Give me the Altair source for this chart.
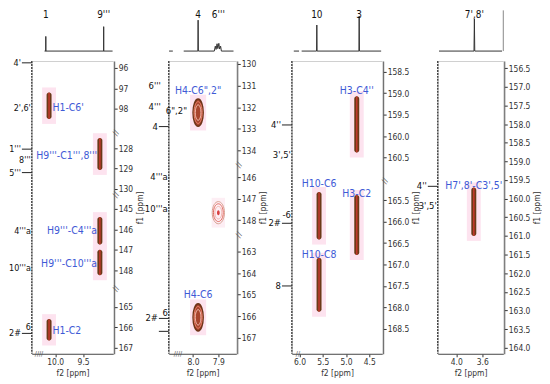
import altair as alt
import pandas as pd

FONT = "Liberation Sans Narrow, DejaVu Sans Condensed, Roboto Condensed, Roboto, sans-serif"
BLUE = "#3e5ad6"
PINK = "#fde3ef"
OUTER = "#6b3a18"
INNER = "#c0392b"

# ---------------- data ----------------
# Panel 1
P1_SPEC_X = [10.13, 10.11, 10.11, 10.11, 9.20, 9.20, 9.20, 9.06]
P1_SPEC_Y = [0, 0, 0.36, 0, 0, 0.60, 0, 0]
P1_SPEC_SEG = [0, 0, 0, 0, 0, 0, 0, 0]
P1_SPEC_LAB = ["1", "9'''"]
P1_SPEC_LAB_X = [10.11, 9.20]
P1_PEAK_F2 = [10.11, 9.20, 9.20, 9.20, 10.11]
P1_PEAK_LO = [97.2, 127.5, 145.4, 147.0, 165.6]
P1_PEAK_HI = [98.5, 129.07, 146.74, 148.25, 166.65]
P1_LAB = ["H1-C6'", "H9'''-C1''',8'''", "H9'''-C4'''a", "H9'''-C10'''a", "H1-C2"]
P1_LAB_F2 = [10.05, 9.25, 9.25, 9.25, 10.05]
P1_LAB_F1 = [97.95, 128.4, 146.1, 147.7, 166.2]
P1_LAB_ALIGN = ["left", "right", "right", "right", "left"]
P1_C13 = ["4'", "2',6'", "1'''", "8'''", "5'''", "4'''a", "10'''a", "2#", "6"]
P1_C13_F1 = [95.75, 97.95, 128.05, 128.6, 129.2, 146.1, 147.9, 166.3, 166.0]
P1_C13_KIND = ["line", "plain", "line", "plain", "line", "plain", "plain", "line", "plain"]
P1_YTICKS = [96, 97, 98, 128, 129, 130, 145, 146, 147, 148, 165, 166, 167]
P1_XTICKS = [10.0, 9.5]
P1_SEGS = [(95.66, 99.2), (127.27, 130.3), (144.32, 148.92), (164.12, 167.3)]
P1_XDOM = [9.05, 10.33]

# Panel 2
P2_SPEC_X = [8.095, 8.080, 8.037, 7.981, 7.980, 7.979, 7.916, 7.912, 7.909, 7.905,
             7.902, 7.898, 7.895, 7.891, 7.888, 7.840]
P2_SPEC_Y = [0, 0, 0, 0, 0.76, 0, 0, 0.12, 0.04, 0.18, 0.06, 0.19, 0.05, 0.12, 0, 0]
P2_SPEC_SEG = [0, 0, 1, 1, 1, 1, 1, 1, 1, 1, 1, 1, 1, 1, 1, 1]
P2_SPEC_LAB = ["4", "6'''"]
P2_SPEC_LAB_X = [7.98, 7.90]
P2_PEAK_F2 = [7.98, 7.90, 7.98]
P2_PEAK_F1 = [132.25, 147.65, 166.05]
P2_PEAK_KIND = ["long", "round", "long"]
P2_LAB = ['H4-C6",2"', "H4-C6"]
P2_LAB_F2 = [7.98, 7.98]
P2_LAB_F1 = [131.25, 165.0]
P2_LAB_ALIGN = ["center", "center"]
P2_C13 = ["6'''", "4'''", '6",2"', "4", "4'''a", "10'''a", "2#", "6", ""]
P2_C13_F1 = [131.0, 132.0, 132.2, 132.9, 146.0, 147.5, 166.1, 165.85, 166.7]
P2_C13_KIND = ["far", "far", "inside", "line", "plain", "plain", "line", "plain", "line"]
P2_YTICKS = [130, 131, 132, 133, 134, 146, 147, 148, 163, 164, 165, 166, 167]
P2_XTICKS = [8.1, 8.0, 7.9]
P2_SEGS = [(129.86, 134.69), (145.45, 148.69), (162.24, 167.74)]
P2_XDOM = [7.829, 8.096]

# Panel 3
P3_SPEC_X = [6.02, 5.92, 5.87, 5.585, 5.58, 5.575, 4.775, 4.77, 4.765, 4.35]
P3_SPEC_Y = [0, 0, 0, 0, 0.64, 0, 0, 0.86, 0, 0]
P3_SPEC_SEG = [0, 0, 1, 1, 1, 1, 1, 1, 1, 1]
P3_SPEC_LAB = ["10", "3"]
P3_SPEC_LAB_X = [5.58, 4.77]
P3_PEAK_F2 = [4.77, 5.58, 4.77, 5.58]
P3_PEAK_LO = [159.07, 165.31, 165.38, 166.84]
P3_PEAK_HI = [160.38, 166.42, 166.78, 168.10]
P3_LAB = ["H3-C4''", "H10-C6", "H3-C2", "H10-C8"]
P3_LAB_F2 = [4.77, 5.58, 4.77, 5.58]
P3_LAB_F1 = [158.95, 165.12, 165.35, 166.78]
P3_LAB_ALIGN = ["center", "center", "center", "center"]
P3_C13 = ["4''", "3',5'", "-6", "2#", "8"]
P3_C13_F1 = [159.74, 160.45, 165.85, 166.04, 167.5]
P3_C13_KIND = ["line", "plain", "plain", "line", "line"]
P3_YTICKS = [158.5, 159.0, 159.5, 160.0, 160.5, 165.5, 166.0, 166.5, 167.0, 167.5, 168.0, 168.5]
P3_XTICKS = [6.0, 5.5, 5.0, 4.5]
P3_SEGS = [(158.25, 161.05), (165.06, 169.08)]
P3_XDOM = [4.33, 6.057]

# Panel 4
P4_SPEC_X = [4.19, 3.735, 3.73, 3.725, 3.37]
P4_SPEC_Y = [0, 0, 0.79, 0, 0]
P4_SPEC_SEG = [0, 0, 0, 0, 0]
P4_SPEC_LAB = ["7',8'"]
P4_SPEC_LAB_X = [3.73]
P4_PEAK_F2 = [3.73]
P4_PEAK_LO = [159.7]
P4_PEAK_HI = [161.0]
P4_LAB = ["H7',8'-C3',5'"]
P4_LAB_F2 = [3.73]
P4_LAB_F1 = [159.67]
P4_LAB_ALIGN = ["center"]
P4_C13 = ["4''", "3',5'"]
P4_C13_F1 = [159.67, 160.2]
P4_C13_KIND = ["line", "plain"]
P4_YTICKS = [156.5, 157.0, 157.5, 158.0, 158.5, 159.0, 159.5, 160.0, 160.5,
             161.0, 161.5, 162.0, 162.5, 163.0, 163.5, 164.0]
P4_XTICKS = [4.0, 3.6]
P4_SEGS = [(156.31, 164.16)]
P4_XDOM = [3.354, 4.206]

# ---------------- layout / style (not data) ----------------
H_MAIN = 295
H_TOP = 41
ELL_LONG = "M0,-1A0.37,1,0,1,1,0,1A0.37,1,0,1,1,0,-1Z"
ELL_ROUND = "M0,-1A0.55,1,0,1,1,0,1A0.55,1,0,1,1,0,-1Z"
RECT = "M-0.45,-1H0.45V1H-0.45Z"
KIND_X = {"line": (-11, "right"), "far": (-8, "right"), "plain": (-1, "right"), "inside": (-3, "left")}
PINK_PAD_PX = 5


def seg_scale(segs, h):
    total = sum(b - a for a, b in segs)
    k = h / total
    dom, rng, acc = [], [], 0.0
    for a, b in segs:
        dom += [a, b]
        rng += [acc * k, (acc + b - a) * k]
        acc += b - a
    return dom, rng, k


def make_panel(w, xdom, xticks, segs, yticks, yfmt, spec, speclab, peaks, labs, c13,
               bottom_breaks, ellipses=None, top_frame=False, c13_size=9.5):
    dom, rng, k = seg_scale(segs, H_MAIN)
    pad = PINK_PAD_PX / k
    xs = alt.Scale(domain=xdom, reverse=True, nice=False, zero=False)
    X = alt.X("f2:Q", scale=xs,
              axis=alt.Axis(values=xticks, format=".1f", title="f2 [ppm]", labelFlush=False,
                            tickSize=3, labelPadding=1, titlePadding=2))
    Y = alt.Y("f1:Q", scale=alt.Scale(domain=dom, range=rng, nice=False, zero=False),
              axis=alt.Axis(values=yticks, format=yfmt, title="f1 [ppm]", orient="right",
                            titleAngle=270, titleBaseline="top", offset=1, tickSize=3,
                            labelPadding=1, titlePadding=3, labelFlush=False,
                            labelOverlap=False))
    layers = []
    if peaks is not None:
        pdf = pd.DataFrame({"f2": peaks[0], "lo": peaks[1], "hi": peaks[2]})
        base = alt.Chart(pdf)
        layers.append(base.transform_calculate(f1=f"datum.lo - {pad}", f1b=f"datum.hi + {pad}")
                      .mark_bar(size=14, color=PINK).encode(x=X, y=Y, y2="f1b:Q"))
        core = base.transform_calculate(f1="datum.lo", f1b="datum.hi")
        layers.append(core.mark_bar(size=5, cornerRadius=2.5, color=OUTER).encode(x=X, y=Y, y2="f1b:Q"))
        layers.append(core.mark_bar(size=1.6, cornerRadius=0.8, color=INNER).encode(x=X, y=Y, y2="f1b:Q"))
    if ellipses is not None:
        edf = pd.DataFrame({"f2": ellipses[0], "f1": ellipses[1], "kind": ellipses[2]})
        eb = alt.Chart(edf)
        lg = eb.transform_filter(alt.datum.kind == "long")
        rd = eb.transform_filter(alt.datum.kind == "round")
        layers.append(lg.mark_point(shape=RECT, size=1300, filled=True, color=PINK, opacity=1).encode(x=X, y=Y))
        layers.append(lg.mark_point(shape=ELL_LONG, size=760, filled=True, fill="#a8442e",
                                    stroke="#6e3418", strokeWidth=1.5, opacity=1).encode(x=X, y=Y))
        layers.append(lg.mark_point(shape=ELL_LONG, size=480, filled=False, color="#e8806a",
                                    strokeWidth=1, opacity=1).encode(x=X, y=Y))
        layers.append(lg.mark_point(shape=ELL_LONG, size=240, filled=False, color="#f6c0b2",
                                    strokeWidth=1, opacity=1).encode(x=X, y=Y))
        layers.append(rd.mark_point(shape=RECT, size=900, filled=True, color="#fdeef4", opacity=1).encode(x=X, y=Y))
        for sz, col in [(500, "#d7a090"), (320, "#e06a60"), (160, "#f0b4ac")]:
            layers.append(rd.mark_point(shape=ELL_ROUND, size=sz, filled=False, color=col,
                                        strokeWidth=1, opacity=1).encode(x=X, y=Y))
        layers.append(rd.mark_point(shape=ELL_ROUND, size=25, filled=True, color="#d84040",
                                    opacity=1).encode(x=X, y=Y))
    # 13C projection along the left edge
    layers.append(alt.Chart(pd.DataFrame({"a": [0]})).mark_rule(
        color="#222", strokeDash=[2, 1], strokeWidth=1.2).encode(
        x=alt.value(0), y=alt.value(0), y2=alt.value(H_MAIN)))
    cdf = pd.DataFrame({"t": c13[0], "f1": c13[1], "kind": c13[2]})
    cb = alt.Chart(cdf)
    layers.append(cb.transform_filter(alt.datum.kind == "line").mark_rule(
        color="#222", strokeWidth=1).encode(x=alt.value(-10), x2=alt.value(0), y=Y))
    for kind, (xo, al) in KIND_X.items():
        if kind in c13[2]:
            layers.append(cb.transform_filter(alt.datum.kind == kind).mark_text(
                align=al, baseline="middle", font=FONT, fontSize=c13_size, color="#111").encode(
                x=alt.value(xo), y=Y, text="t:N"))
    # cross-peak labels
    ldf = pd.DataFrame({"t": labs[0], "f2": labs[1], "f1": labs[2], "al": labs[3]})
    lb = alt.Chart(ldf)
    for al in ["left", "center", "right"]:
        if al in labs[3]:
            layers.append(lb.transform_filter(alt.datum.al == al).mark_text(
                align=al, baseline="middle", font=FONT, fontSize=10.5, color=BLUE).encode(
                x=X, y=Y, text="t:N"))
    # axis break marks
    if len(segs) > 1:
        bdf = pd.DataFrame({"f1": [b for a, b in segs[:-1]]})
        layers.append(alt.Chart(bdf).mark_text(text="//", font=FONT, fontSize=8, color="#555",
                                               angle=300).encode(x=alt.value(w + 3), y=Y))
    if bottom_breaks:
        layers.append(alt.Chart(pd.DataFrame({"a": [0]})).mark_text(
            text=bottom_breaks[0], font=FONT, fontSize=7, color="#555", align="left",
            baseline="middle").encode(
            x=alt.value(bottom_breaks[1]), y=alt.value(H_MAIN)))
    main = alt.layer(*layers).properties(width=w, height=H_MAIN)

    sdf = pd.DataFrame({"f2": spec[0], "inten": spec[1], "seg": spec[2], "i": list(range(len(spec[0])))})
    XT = alt.X("f2:Q", scale=xs, axis=None)
    top_layers = [alt.Chart(sdf).mark_line(color="#333", strokeWidth=1).encode(
        x=XT, y=alt.Y("inten:Q", scale=alt.Scale(domain=[0, 1], nice=False), axis=None),
        detail="seg:N", order="i:Q")]
    tl = pd.DataFrame({"t": speclab[0], "f2": speclab[1]})
    top_layers.append(alt.Chart(tl).mark_text(font=FONT, fontSize=10, color="#111",
                                              baseline="middle").encode(
        x=XT, y=alt.value(5), text="t:N"))
    if top_frame:
        top_layers.append(alt.Chart(pd.DataFrame({"a": [0]})).mark_rule(color="#888").encode(
            x=alt.value(w), y=alt.value(0), y2=alt.value(H_TOP)))
    top = alt.layer(*top_layers).properties(width=w, height=H_TOP,
                                            view=alt.ViewBackground(stroke="transparent"))
    return top, main


t1, m1 = make_panel(82, P1_XDOM, P1_XTICKS, P1_SEGS, P1_YTICKS, "d",
                    (P1_SPEC_X, P1_SPEC_Y, P1_SPEC_SEG), (P1_SPEC_LAB, P1_SPEC_LAB_X),
                    (P1_PEAK_F2, P1_PEAK_LO, P1_PEAK_HI),
                    (P1_LAB, P1_LAB_F2, P1_LAB_F1, P1_LAB_ALIGN),
                    (P1_C13, P1_C13_F1, P1_C13_KIND), ("////", 3), c13_size=9)
t2, m2 = make_panel(68, P2_XDOM, P2_XTICKS, P2_SEGS, P2_YTICKS, "d",
                    (P2_SPEC_X, P2_SPEC_Y, P2_SPEC_SEG), (P2_SPEC_LAB, P2_SPEC_LAB_X),
                    None,
                    (P2_LAB, P2_LAB_F2, P2_LAB_F1, P2_LAB_ALIGN),
                    (P2_C13, P2_C13_F1, P2_C13_KIND), ("////", 5),
                    ellipses=(P2_PEAK_F2, P2_PEAK_F1, P2_PEAK_KIND))
t3, m3 = make_panel(91, P3_XDOM, P3_XTICKS, P3_SEGS, P3_YTICKS, ".1f",
                    (P3_SPEC_X, P3_SPEC_Y, P3_SPEC_SEG), (P3_SPEC_LAB, P3_SPEC_LAB_X),
                    (P3_PEAK_F2, P3_PEAK_LO, P3_PEAK_HI),
                    (P3_LAB, P3_LAB_F2, P3_LAB_F1, P3_LAB_ALIGN),
                    (P3_C13, P3_C13_F1, P3_C13_KIND), ("//", 4))
t4, m4 = make_panel(66, P4_XDOM, P4_XTICKS, P4_SEGS, P4_YTICKS, ".1f",
                    (P4_SPEC_X, P4_SPEC_Y, P4_SPEC_SEG), (P4_SPEC_LAB, P4_SPEC_LAB_X),
                    (P4_PEAK_F2, P4_PEAK_LO, P4_PEAK_HI),
                    (P4_LAB, P4_LAB_F2, P4_LAB_F1, P4_LAB_ALIGN),
                    (P4_C13, P4_C13_F1, P4_C13_KIND), None, top_frame=True)

chart = alt.concat(t1, t2, t3, t4, m1, m2, m3, m4, columns=4,
                   spacing={"row": 10, "column": 56}, bounds="flush", align="each").properties(
    padding=0, background="white"
).configure_view(stroke="#d0d0d0").configure_axis(
    labelFont=FONT, titleFont=FONT, labelFontSize=8.5, titleFontSize=8.5,
    titleFontWeight="normal", labelColor="#333", titleColor="#333",
    tickColor="#333", domainColor="#555", grid=False
)

chart.save("out.html", embed_options={"renderer": "svg", "actions": False})
